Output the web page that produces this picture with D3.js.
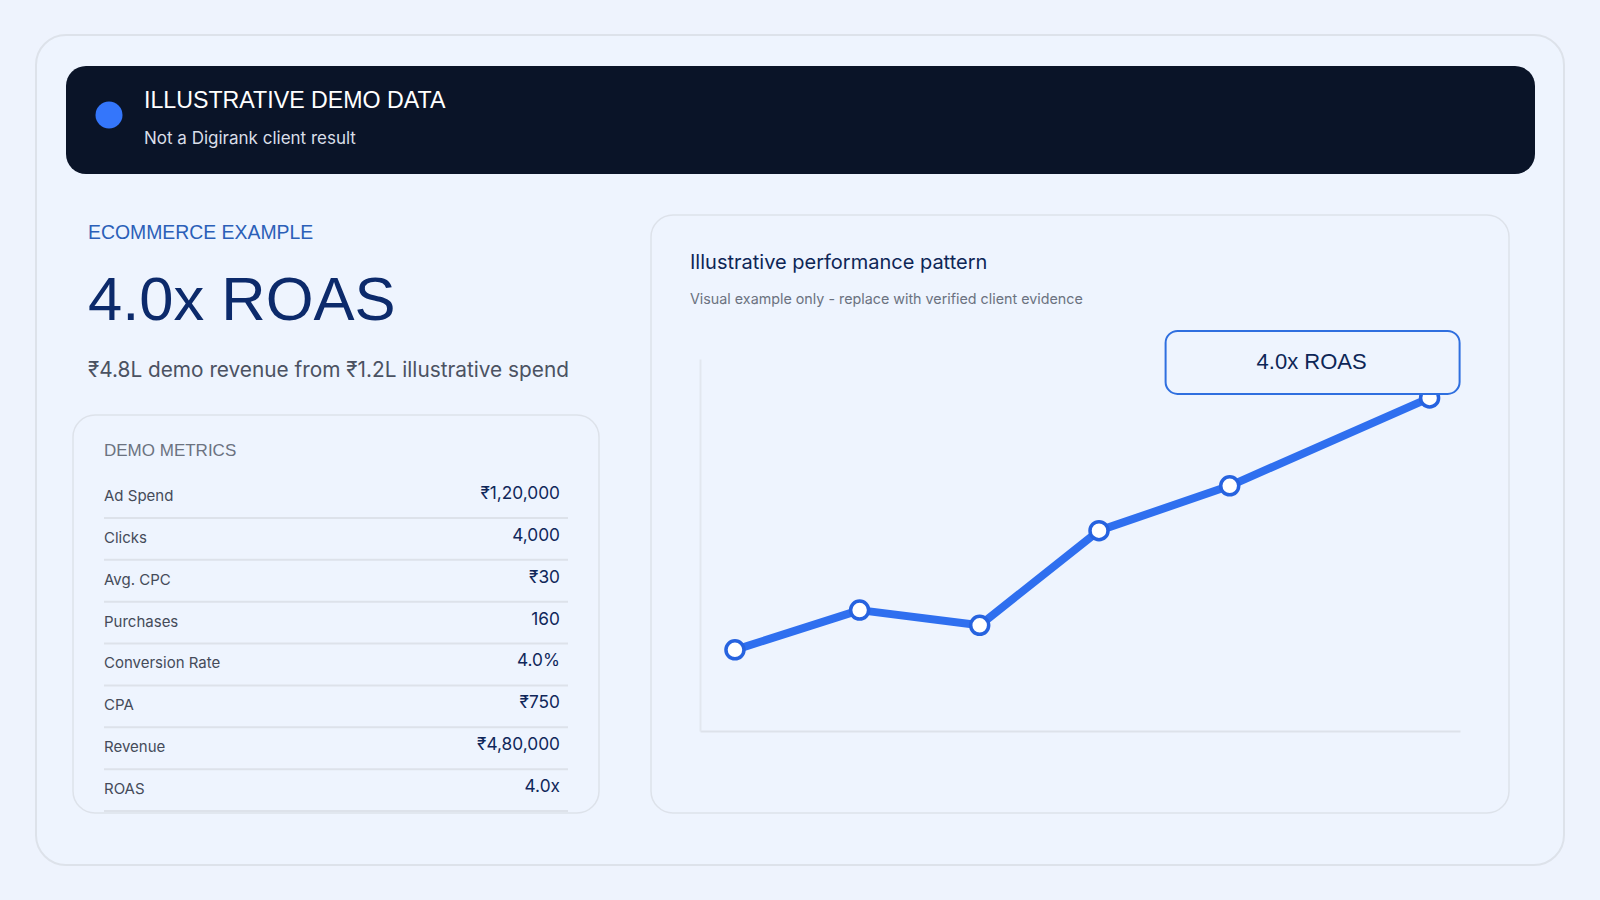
<!DOCTYPE html>
<html>
<head>
<meta charset="utf-8">
<script src="https://cdn.jsdelivr.net/npm/d3@7"></script>
<style>
  html, body { margin: 0; padding: 0; background: #eef3fd; }
  svg { display: block; }
</style>
</head>
<body>
<svg id="chart" width="1600" height="900"></svg>
<script>
// ---- data ----
const periods = [4.6, 21, 36.8, 52.5, 69.7, 96];          // x positions (relative time)
const roasValues = [0.96, 1.43, 1.25, 2.37, 2.9, 3.94];    // illustrative ROAS pattern
const metricLabels = ["Ad Spend", "Clicks", "Avg. CPC", "Purchases", "Conversion Rate", "CPA", "Revenue", "ROAS"];
const metricValues = ["₹1,20,000", "4,000", "₹30", "160", "4.0%", "₹750", "₹4,80,000", "4.0x"];
const bannerTitle = "ILLUSTRATIVE DEMO DATA";
const bannerSub = "Not a Digirank client result";
const calloutText = "4.0x ROAS";

const svg = d3.select("#chart");
const HEAD = "'Liberation Sans', Arial, sans-serif";
const BODY = "Inter, 'Noto Sans', sans-serif";

// background
svg.append("rect").attr("width", 1600).attr("height", 900).attr("fill", "#eef3fd");

// outer card
svg.append("rect").attr("x", 36).attr("y", 35).attr("width", 1528).attr("height", 830)
  .attr("rx", 30).attr("fill", "#eef4fe").attr("stroke", "#dde2ea").attr("stroke-width", 2);

// banner
svg.append("rect").attr("x", 66).attr("y", 66).attr("width", 1469).attr("height", 108)
  .attr("rx", 20).attr("fill", "#0a1428");
svg.append("circle").attr("cx", 109).attr("cy", 115).attr("r", 13.5).attr("fill", "#3476fb");
svg.append("text").attr("x", 144).attr("y", 108).text(bannerTitle)
  .attr("font-family", HEAD).attr("font-size", 23.2).attr("fill", "#ffffff");
svg.append("text").attr("x", 144).attr("y", 144).text(bannerSub)
  .attr("font-family", BODY).attr("font-size", 17).attr("fill", "#d9dee8");

// left text block
svg.append("text").attr("x", 88).attr("y", 239).text("ECOMMERCE EXAMPLE")
  .attr("font-family", HEAD).attr("font-size", 19.4).attr("fill", "#2b5fb8");
svg.append("text").attr("x", 88).attr("y", 320).text("4.0x ROAS")
  .attr("font-family", HEAD).attr("font-size", 61.5).attr("fill", "#0c2a6b");
svg.append("text").attr("x", 88).attr("y", 377).text("₹4.8L demo revenue from ₹1.2L illustrative spend")
  .attr("font-family", BODY).attr("font-size", 20.8).attr("fill", "#4b5262");

// metrics card
svg.append("rect").attr("x", 73).attr("y", 415).attr("width", 526).attr("height", 398)
  .attr("rx", 22).attr("fill", "#eef4fe").attr("stroke", "#dde2ea").attr("stroke-width", 1.5);
svg.append("text").attr("x", 104).attr("y", 456).text("DEMO METRICS")
  .attr("font-family", HEAD).attr("font-size", 17).attr("fill", "#6b7280");

const rowY = d3.scaleLinear().domain([0, metricLabels.length - 1]).range([501, 794]);
const rows = svg.append("g").selectAll("g").data(metricLabels).join("g");
rows.append("text").attr("x", 104).attr("y", (d, i) => rowY(i)).text(d => d)
  .attr("font-family", BODY).attr("font-size", 15).attr("fill", "#454b59");
rows.append("text").attr("x", 560).attr("y", (d, i) => rowY(i) - 2).attr("text-anchor", "end")
  .text((d, i) => metricValues[i])
  .attr("font-family", BODY).attr("font-size", 17.3).attr("fill", "#10275a");
rows.append("line").attr("x1", 104).attr("x2", 568)
  .attr("y1", (d, i) => rowY(i) + 17).attr("y2", (d, i) => rowY(i) + 17)
  .attr("stroke", "#dde2ea").attr("stroke-width", 2);

// chart card
svg.append("rect").attr("x", 651).attr("y", 215).attr("width", 858).attr("height", 598)
  .attr("rx", 22).attr("fill", "#eef4fe").attr("stroke", "#dde2ea").attr("stroke-width", 1.5);
svg.append("text").attr("x", 690).attr("y", 269).text("Illustrative performance pattern")
  .attr("font-family", BODY).attr("font-size", 20).attr("fill", "#0d2656");
svg.append("text").attr("x", 690).attr("y", 304).text("Visual example only - replace with verified client evidence")
  .attr("font-family", BODY).attr("font-size", 14.3).attr("fill", "#6b7280");

// scales
const x = d3.scaleLinear().domain([0, 100]).range([700, 1460]);
const y = d3.scaleLinear().domain([0, 4.4]).range([731, 359]);

// axes (no ticks)
const axisG = svg.append("g");
axisG.append("g").attr("transform", `translate(0,${y(0)})`)
  .call(d3.axisBottom(x).tickValues([]).tickSizeOuter(0))
  .call(g => g.select(".domain").attr("stroke", "#dde2ea").attr("stroke-width", 2));
axisG.append("g").attr("transform", `translate(${x(0)},0)`)
  .call(d3.axisLeft(y).tickValues([]).tickSizeOuter(0))
  .call(g => g.select(".domain").attr("stroke", "#e2e7ef").attr("stroke-width", 2));

// line
const line = d3.line().x((d, i) => x(periods[i])).y(d => y(d));
svg.append("path").datum(roasValues).attr("d", line)
  .attr("fill", "none").attr("stroke", "#2f6fef").attr("stroke-width", 8)
  .attr("stroke-linejoin", "round");
svg.append("g").selectAll("circle").data(roasValues).join("circle")
  .attr("cx", (d, i) => x(periods[i])).attr("cy", d => y(d)).attr("r", 9)
  .attr("fill", "#ffffff").attr("stroke", "#2763df").attr("stroke-width", 3.5);

// callout
const last = roasValues.length - 1;
const cx = x(periods[last]), cy = y(roasValues[last]);
svg.append("rect").attr("x", cx - 264).attr("y", cy - 67).attr("width", 294).attr("height", 63)
  .attr("rx", 12).attr("fill", "#eef4fe").attr("stroke", "#2f6fdf").attr("stroke-width", 2);
svg.append("text").attr("x", cx - 118).attr("y", cy - 29).attr("text-anchor", "middle")
  .text(calloutText).attr("font-family", HEAD).attr("font-size", 22).attr("fill", "#0d2656");
</script>
</body>
</html>
